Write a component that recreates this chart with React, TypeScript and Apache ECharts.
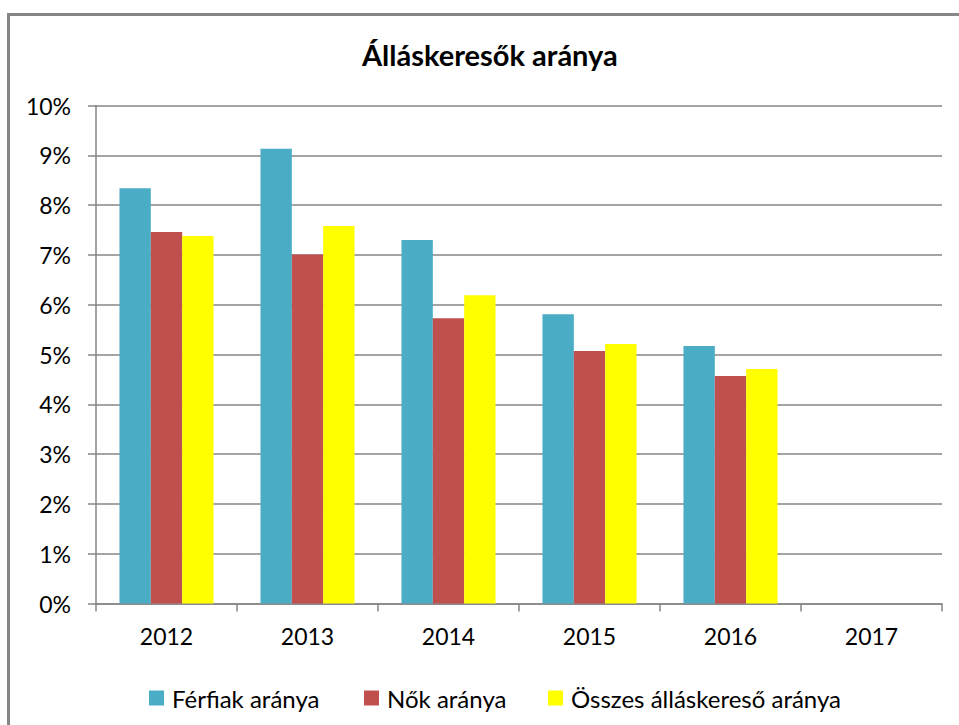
import React, { useEffect, useRef } from "react";
import * as echarts from "echarts";

const categories = ["2012", "2013", "2014", "2015", "2016", "2017"];
const ferfiak = [8.34, 9.13, 7.3, 5.81, 5.17, null];
const nok = [7.46, 7.01, 5.73, 5.07, 4.57, null];
const osszes = [7.38, 7.58, 6.19, 5.21, 4.71, null];
const seriesNames = ["Férfiak aránya", "Nők aránya", "Összes álláskereső aránya"];
const colors = ["#4BACC6", "#C0504D", "#FFFF00"];
const titleText = "Álláskeresők aránya";

const FONT = "Lato, 'Noto Sans', sans-serif";
const legendLefts = [144, 359, 543];

export default function App() {
  const ref = useRef<HTMLDivElement>(null);
  useEffect(() => {
    if (!ref.current) return;
    const chart = echarts.init(ref.current, null, { renderer: "svg" });
    const values = [ferfiak, nok, osszes];
    chart.setOption({
      animation: false,
      backgroundColor: "#ffffff",
      textStyle: { fontFamily: FONT },
      title: {
        text: titleText,
        left: 357,
        top: 35,
        textStyle: { fontFamily: FONT, fontSize: 29, fontWeight: "bold", color: "#000" },
      },
      graphic: [
        {
          type: "rect",
          shape: { x: 8.5, y: 14.5, width: 1000, height: 1000 },
          style: { fill: "none", stroke: "#868686", lineWidth: 3 },
          silent: true,
        },
      ],
      legend: seriesNames.map((name, i) => ({
        left: legendLefts[i],
        top: 681,
        itemWidth: 15,
        itemHeight: 15,
        icon: "rect",
        data: [name],
        textStyle: { fontFamily: FONT, fontSize: 24, color: "#000", padding: [0, 0, 0, 3] },
      })),
      grid: { left: 96, right: 17, top: 105.5, bottom: 121.5, containLabel: false },
      xAxis: {
        type: "category",
        data: categories,
        axisLine: { lineStyle: { color: "#868686", width: 1.5 } },
        axisTick: { show: true, length: 8, lineStyle: { color: "#868686", width: 1.5 } },
        axisLabel: { margin: 21, fontFamily: FONT, fontSize: 23, color: "#000" },
      },
      yAxis: {
        type: "value",
        min: 0,
        max: 10,
        interval: 1,
        axisLine: { show: true, lineStyle: { color: "#868686", width: 1.5 } },
        axisTick: { show: true, length: 8, lineStyle: { color: "#868686", width: 1.5 } },
        splitLine: { lineStyle: { color: "#868686", width: 1.5 } },
        axisLabel: { margin: 25, fontFamily: FONT, fontSize: 23, color: "#000", formatter: "{value}%" },
      },
      series: seriesNames.map((name, i) => ({
        name,
        type: "bar",
        data: values[i],
        itemStyle: { color: colors[i] },
        barGap: "0%",
        barCategoryGap: "33.3%",
      })),
    });
    return () => chart.dispose();
  }, []);
  return (
    <div
      ref={ref}
      style={{ position: "fixed", left: 0, top: 0, width: 959, height: 725 }}
    />
  );
}
